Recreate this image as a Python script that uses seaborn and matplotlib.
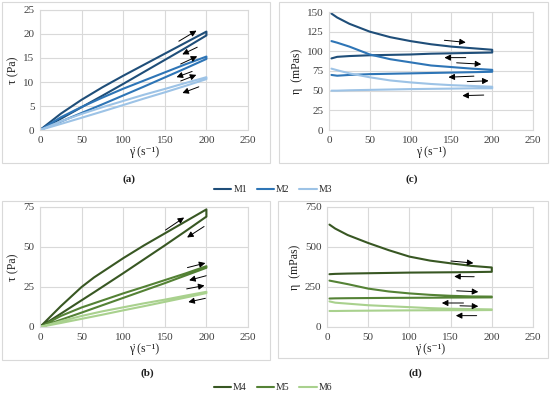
import matplotlib
matplotlib.use("Agg")
import matplotlib.pyplot as plt
import seaborn as sns
import pandas as pd
from matplotlib.patches import Rectangle
from matplotlib.lines import Line2D

sns.set_theme(style="white")
plt.rcParams['font.family'] = ['Liberation Serif', 'DejaVu Serif']

# ---------------- data ----------------
gamma_tau = [0, 25, 50, 75, 100, 125, 150, 175, 200]
gamma_tau_M4 = [0, 25, 50, 65, 100, 125, 150, 175, 200]
gamma_eta = [3, 10, 25, 50, 75, 100, 125, 150, 175, 200]

tau_M1_up = [0, 3.4, 6.3, 8.9, 11.3, 13.6, 15.9, 18.2, 20.5]
tau_M1_down = [0, 2.35, 4.75, 7.15, 9.6, 12.1, 14.6, 17.1, 19.7]
tau_M2_up = [0, 2.65, 4.8, 6.75, 8.6, 10.3, 12.0, 13.7, 15.3]
tau_M2_down = [0, 1.75, 3.55, 5.35, 7.2, 9.05, 10.95, 12.85, 14.8]
tau_M3_up = [0, 1.8, 3.35, 4.75, 6.05, 7.35, 8.55, 9.8, 11.0]
tau_M3_down = [0, 1.26, 2.55, 3.86, 5.2, 6.55, 7.85, 9.2, 10.6]

tau_M4_up = [0, 13, 25, 31, 43, 51, 58.5, 66, 73.5]
tau_M4_down = [0, 8.3, 16.7, 21.7, 33.6, 42.3, 51, 59.9, 69]
tau_M5_up = [0, 6.9, 12.2, 16.6, 21, 25.1, 29.3, 33.5, 38]
tau_M5_down = [0, 4.5, 9.0, 13.6, 18.2, 22.8, 27.4, 32.2, 37]
tau_M6_up = [0, 3.6, 6.9, 9.8, 12.3, 14.8, 17.1, 19.6, 22]
tau_M6_down = [0, 2.5, 5.1, 7.7, 10.4, 13.0, 15.7, 18.4, 21.2]

eta_M1_up = [148, 143, 135, 125, 118, 113, 109, 106, 104, 102]
eta_M1_down = [91, 93, 94, 95, 95.5, 96, 97, 97.5, 98, 98.5]
eta_M2_up = [113, 111, 106, 96, 90, 86, 82, 80, 78, 76.5]
eta_M2_down = [70, 69, 70, 71, 71.5, 72, 72.5, 73, 73.5, 74]
eta_M3_up = [78, 76, 72, 67, 63, 60.5, 58.5, 57, 56, 55]
eta_M3_down = [50, 50, 50.5, 51, 51.5, 52, 52.3, 52.6, 53, 53]

eta_M4_up = [640, 615, 575, 525, 480, 440, 415, 398, 382, 372]
eta_M4_down = [330, 332, 334, 336, 338, 340, 341, 342, 343, 345]
eta_M5_up = [290, 283, 268, 240, 222, 210, 201, 195, 191, 190]
eta_M5_down = [178, 179, 180, 181, 182, 182.5, 183, 184, 184.5, 185]
eta_M6_up = [160, 152, 146, 136, 130, 124, 118, 114, 112, 110]
eta_M6_down = [100, 100, 101, 102, 103, 104, 104.5, 105, 105, 106]

samples_top = ["M1", "M2", "M3"]
samples_bot = ["M4", "M5", "M6"]
colors_top = ["#1f4e79", "#2e75b6", "#9dc3e6"]
colors_bot = ["#385723", "#548235", "#a9d18e"]


def loop_frame(names, gammas, ups, downs, ycol):
    rows = []
    for n, g, u, d in zip(names, gammas, ups, downs):
        xs = list(g) + list(g)[::-1]
        ys = list(u) + list(d)[::-1]
        for i, (x, y) in enumerate(zip(xs, ys)):
            rows.append({"sample": n, "gamma": x, ycol: y, "order": i})
    return pd.DataFrame(rows)


df_a = loop_frame(samples_top, [gamma_tau] * 3,
                  [tau_M1_up, tau_M2_up, tau_M3_up],
                  [tau_M1_down, tau_M2_down, tau_M3_down], "tau")
df_c = loop_frame(samples_top, [gamma_eta] * 3,
                  [eta_M1_up, eta_M2_up, eta_M3_up],
                  [eta_M1_down, eta_M2_down, eta_M3_down], "eta")
df_b = loop_frame(samples_bot, [gamma_tau_M4, gamma_tau, gamma_tau],
                  [tau_M4_up, tau_M5_up, tau_M6_up],
                  [tau_M4_down, tau_M5_down, tau_M6_down], "tau")
df_d = loop_frame(samples_bot, [gamma_eta] * 3,
                  [eta_M4_up, eta_M5_up, eta_M6_up],
                  [eta_M4_down, eta_M5_down, eta_M6_down], "eta")

# ---------------- figure ----------------
fig = plt.figure(figsize=(5.5, 3.95), dpi=100)
W, H = 550.0, 395.0


def ax_px(l, r, t, b):
    return fig.add_axes([l / W, 1 - b / H, (r - l) / W, (b - t) / H])


ax_a = ax_px(40, 248, 10, 130)
ax_c = ax_px(329, 533, 12, 130)
ax_b = ax_px(40, 248, 207, 327)
ax_d = ax_px(327, 533, 207, 327)

grid_c = "#d9d9d9"
fs = 8

for ax, df, ycol, pal, ymax, ystep, ylabel in [
        (ax_a, df_a, "tau", colors_top, 25, 5, "τ (Pa)"),
        (ax_c, df_c, "eta", colors_top, 150, 25, "η  (mPas)"),
        (ax_b, df_b, "tau", colors_bot, 75, 25, "τ (Pa)"),
        (ax_d, df_d, "eta", colors_bot, 750, 250, "η  (mPas)")]:
    sns.lineplot(data=df, x="gamma", y=ycol, hue="sample", palette=pal,
                 sort=False, estimator=None, lw=1.5, ax=ax, legend=False)
    ax.set_xlim(0, 250)
    ax.set_ylim(0, ymax)
    ax.set_xticks(range(0, 251, 50))
    ax.set_yticks(range(0, ymax + 1, ystep))
    ax.grid(True, color=grid_c, lw=0.8)
    ax.set_axisbelow(True)
    for s in ax.spines.values():
        s.set_color(grid_c)
        s.set_linewidth(0.8)
    ax.tick_params(length=0, labelsize=fs, colors="#404040", pad=4)
    ax.set_xlabel("γ̇ (s⁻¹)", fontsize=fs + 0.5, labelpad=1, color="#202020")
    ax.set_ylabel(ylabel, fontsize=fs + 0.5, labelpad=3, color="#202020")

# arrows
arrow_kw = dict(arrowstyle="-|>", color="black", lw=0.7, mutation_scale=9)
arrows_a = [((164, 18.2), (191, 21)), ((192, 17.5), (168, 15.5)),
            ((166, 13.5), (192, 15.6)), ((186, 12.4), (161, 10.8)),
            ((166, 10.0), (191, 11.7)), ((194, 9.2), (168, 7.5))]
arrows_c = [((138, 114.4), (171, 111)), ((171, 92), (138, 92)),
            ((153, 85.6), (190, 83.5)), ((181, 68.6), (143, 67)),
            ((166, 61.4), (199, 62.7)), ((193, 44.5), (160, 43.6))]
arrows_b = [((148, 59.6), (176, 69.4)), ((200, 63.75), (174, 55)),
            ((174, 36.7), (202, 40.4)), ((203, 32.5), (176, 28.75)),
            ((173, 23.5), (201, 26.25)), ((202, 18.3), (175, 15.2))]
arrows_d = [((147, 414), (181, 398)), ((182, 314), (151, 316)),
            ((154, 227), (187, 219)), ((169, 150), (136, 150)),
            ((158, 133), (187, 129)), ((185, 71), (153, 71))]
for ax, arrs in [(ax_a, arrows_a), (ax_c, arrows_c), (ax_b, arrows_b), (ax_d, arrows_d)]:
    for tail, head in arrs:
        ax.annotate("", xy=head, xytext=tail, arrowprops=arrow_kw)

# panel frames
for (l, t, r, b) in [(2, 2, 270, 163), (279, 2, 548, 163),
                     (2, 201, 270, 360), (278, 201, 548, 358)]:
    fig.patches.append(Rectangle((l / W, 1 - b / H), (r - l) / W, (b - t) / H,
                                 transform=fig.transFigure, fill=False,
                                 edgecolor="#d9d9d9", lw=0.8))

# panel letters
for txt, x, y in [("(a)", 129, 179), ("(c)", 412, 179), ("(b)", 147, 373), ("(d)", 415, 373)]:
    fig.text(x / W, 1 - y / H, txt, ha="center", va="center", fontsize=8,
             fontweight="bold", color="#202020")

# legends
h_top = [Line2D([0], [0], color=c, lw=1.5) for c in colors_top]
h_bot = [Line2D([0], [0], color=c, lw=1.5) for c in colors_bot]
fig.legend(h_top, samples_top, loc="center", bbox_to_anchor=(273 / W, 1 - 190 / H),
           ncol=3, frameon=False, fontsize=7, handlelength=1.8, handletextpad=0.2,
           columnspacing=1.0)
fig.legend(h_bot, samples_bot, loc="center", bbox_to_anchor=(273 / W, 1 - 388 / H),
           ncol=3, frameon=False, fontsize=7, handlelength=1.8, handletextpad=0.2,
           columnspacing=1.0)

fig.savefig("out.png", dpi=100, facecolor="white")
